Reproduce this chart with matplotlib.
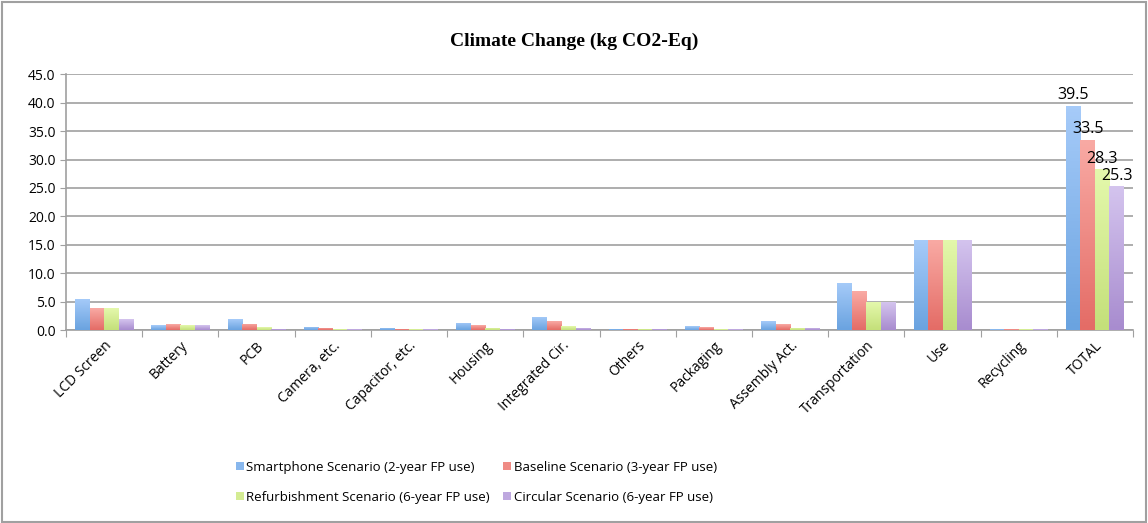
import numpy as np
import matplotlib.pyplot as plt
from matplotlib.patches import Rectangle
from matplotlib.colors import LinearSegmentedColormap

categories = ["LCD Screen", "Battery", "PCB", "Camera, etc.", "Capacitor, etc.", "Housing",
              "Integrated Cir.", "Others", "Packaging", "Assembly Act.", "Transportation",
              "Use", "Recycling", "TOTAL"]

smartphone = [5.5, 0.8, 1.9, 0.6, 0.4, 1.3, 2.3, 0.2, 0.7, 1.5, 8.3, 15.9, 0.1, 39.5]
baseline = [3.8, 1.0, 1.1, 0.4, 0.2, 0.8, 1.5, 0.2, 0.5, 1.0, 6.8, 15.9, 0.1, 33.5]
refurbishment = [3.8, 0.8, 0.5, 0.1, 0.1, 0.4, 0.7, 0.2, 0.1, 0.4, 4.9, 15.9, 0.1, 28.3]
circular = [1.9, 0.8, 0.2, 0.1, 0.1, 0.2, 0.4, 0.2, 0.1, 0.4, 4.9, 15.9, 0.1, 25.3]

series = [
    ("Smartphone Scenario (2-year FP use)", smartphone, "#a6cbf9", "#6aa3e0"),
    ("Baseline Scenario (3-year FP use)", baseline, "#f9aaa4", "#e46c66"),
    ("Refurbishment Scenario (6-year FP use)", refurbishment, "#e4f8ac", "#c4e07a"),
    ("Circular Scenario (6-year FP use)", circular, "#d4c4ee", "#a88ccf"),
]

plt.rcParams['font.family'] = ['Open Sans', 'DejaVu Sans']

fig = plt.figure(figsize=(11.48, 5.23), dpi=100)
fig.patches.append(Rectangle((0.002, 0.002), 0.996, 0.994, transform=fig.transFigure,
                             fill=False, edgecolor="#a0a0a0", linewidth=1.5))
ax = fig.add_axes([0.0575, 0.369, 0.9295, 0.489])

x = np.arange(len(categories))
w = 0.19
handles = []
grad = np.linspace(0, 1, 64).reshape(-1, 1)
for i, (name, vals, c_top, c_bot) in enumerate(series):
    pos = x + (i - 1.5) * w
    bars = ax.bar(pos, vals, w, color=c_top, edgecolor="none", label=name, zorder=2)
    # vertical gradient in each bar
    cmap = LinearSegmentedColormap.from_list(name, [c_bot, c_top])
    for b in bars:
        h = b.get_height()
        im = ax.imshow(grad, cmap=cmap, aspect="auto", origin="lower",
                       extent=(b.get_x(), b.get_x() + w, 0, h), zorder=3)
        im.set_clip_path(b)
    handles.append(Rectangle((0, 0), 1, 1, facecolor=cmap(0.5)))
    ax.text(pos[-1], vals[-1] + 0.4, f"{vals[-1]:.1f}", ha="center", va="bottom",
            fontsize=11.5, zorder=4)

ax.set_xlim(-0.5, len(categories) - 0.5)
ax.set_ylim(0, 45)
ax.set_yticks(np.arange(0, 46, 5))
ax.set_yticklabels([f"{v:.1f}" for v in np.arange(0, 46, 5)], fontsize=10)
ax.yaxis.grid(True, color="#a0a0a0", linewidth=1.2, zorder=0)
ax.set_axisbelow(True)
for s in ["top", "right"]:
    ax.spines[s].set_visible(False)
for s in ["left", "bottom"]:
    ax.spines[s].set_color("#a0a0a0")
    ax.spines[s].set_linewidth(1.2)
ax.tick_params(axis="y", length=4, color="#a0a0a0")

ax.set_xticks(np.arange(-0.5, len(categories), 1.0))
ax.set_xticklabels([])
ax.tick_params(axis="x", length=5, color="#a0a0a0")
ax.set_xticks(x, minor=True)
ax.set_xticklabels(categories, minor=True, rotation=45, ha="right", rotation_mode="anchor",
                   fontsize=10)
ax.tick_params(axis="x", which="minor", length=0, pad=6)

fig.text(0.5, 0.92, "Climate Change (kg CO2-Eq)", ha="center", va="center",
         fontsize=14, fontweight="bold", family="Liberation Serif")

order = [0, 2, 1, 3]
fig.legend([handles[k] for k in order], [series[k][0] for k in order], loc="center",
           bbox_to_anchor=(0.415, 0.078), ncol=2, frameon=False, fontsize=9.5,
           handlelength=0.6, handleheight=0.6, handletextpad=0.2, columnspacing=1.0,
           labelspacing=1.3)

fig.savefig("out.png", dpi=100)
